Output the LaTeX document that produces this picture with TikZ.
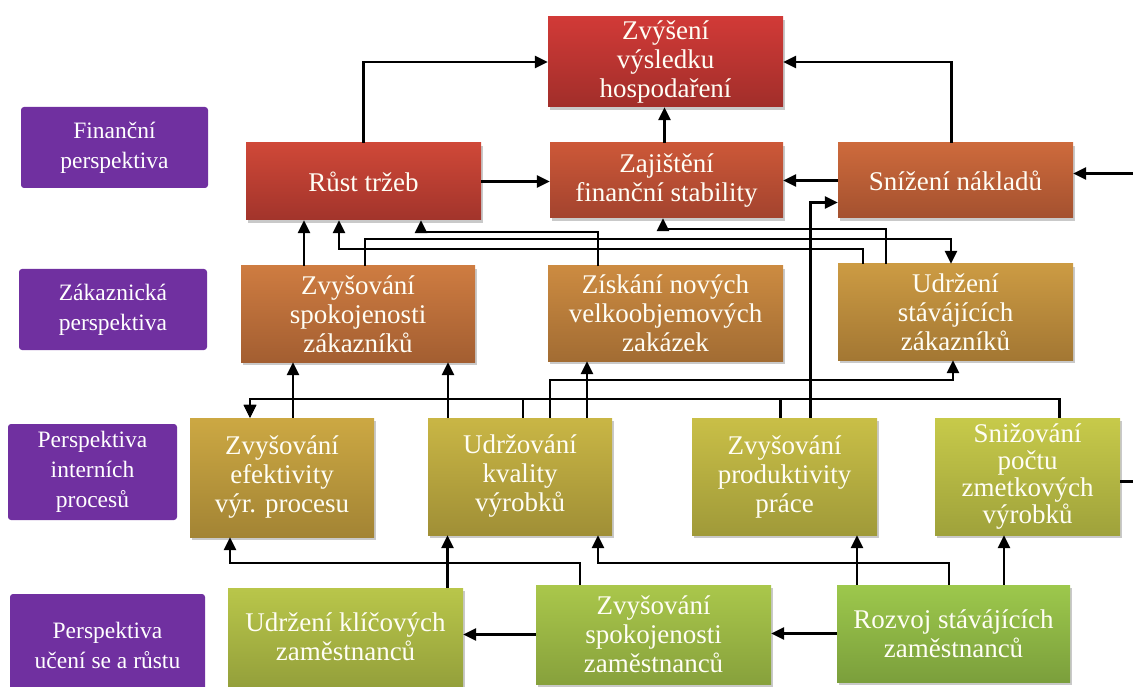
\documentclass[tikz,border=0pt]{standalone}
\usepackage{fontspec}
\setmainfont{Liberation Serif}
\usetikzlibrary{arrows.meta,shadows}
\definecolor{fialova}{HTML}{7030A0}
\definecolor{zvhT}{HTML}{D13A37}\definecolor{zvhB}{HTML}{A12E2A}
\definecolor{rtT}{HTML}{CF4838}\definecolor{rtB}{HTML}{A2342B}
\definecolor{zfsT}{HTML}{CC5838}\definecolor{zfsB}{HTML}{A3432E}
\definecolor{snT}{HTML}{CD6A3C}\definecolor{snB}{HTML}{A4512F}
\definecolor{zszT}{HTML}{CE7C41}\definecolor{zszB}{HTML}{A35E31}
\definecolor{znvT}{HTML}{CC8B41}\definecolor{znvB}{HTML}{A26C33}
\definecolor{uszT}{HTML}{CC9B43}\definecolor{uszB}{HTML}{A37733}
\definecolor{zevT}{HTML}{CCA843}\definecolor{zevB}{HTML}{A38434}
\definecolor{ukvT}{HTML}{C9B645}\definecolor{ukvB}{HTML}{A08F36}
\definecolor{zppT}{HTML}{C9BF47}\definecolor{zppB}{HTML}{A09A39}
\definecolor{spzT}{HTML}{C7CA4A}\definecolor{spzB}{HTML}{9FA23B}
\definecolor{ukzT}{HTML}{B9C64A}\definecolor{ukzB}{HTML}{94A03B}
\definecolor{zsmT}{HTML}{AAC74B}\definecolor{zsmB}{HTML}{87A13C}
\definecolor{rszT}{HTML}{9DC84C}\definecolor{rszB}{HTML}{7B9F3C}

\begin{document}
\begin{tikzpicture}[x=1pt, y=-1pt,
        persp/.style={fill=fialova, rounded corners=3pt, text=white, align=center, inner sep=0pt,
            font=\fontsize{23.5}{30}\selectfont},
        cil/.style={top color=#1T, bottom color=#1B, text=white!96!yellow, align=center, inner sep=0pt,
            font=\fontsize{27}{29}\selectfont,
            drop shadow={shadow xshift=2pt, shadow yshift=-3pt, opacity=0.3, fill=black!70}},
        rozmer/.style 2 args={minimum width=#1pt, minimum height=#2pt},
        arr/.style={-{Triangle[length=13pt,width=12pt]}, line width=2.5pt, black}
    ]
        \useasboundingbox (0,0) rectangle (1133,687);

        \node[persp, rozmer={187}{81}] (lfin) at (114.5,147.5) {Finanční\\perspektiva};
        \node[persp, rozmer={188}{81}] (lzak) at (113,309.5) {Zákaznická\\perspektiva};
        \node[persp, rozmer={169}{96}] (lint) at (92.5,472) {Perspektiva\\interních\\procesů};
        \node[persp, rozmer={195}{102}] (luce) at (107.5,645) {Perspektiva\\učení se a růstu};

        \node[cil=zvh, rozmer={235}{90}] (zvh) at (665.5,62) {Zvýšení\\výsledku\\hospodaření};
        \node[cil=rt, rozmer={235}{77}] (rt) at (363.5,181.5) {Růst tržeb};
        \node[cil=zfs, rozmer={233}{75}] (zfs) at (666.5,180.5) {Zajištění\\finanční stability};
        \node[cil=sn, rozmer={235}{75}] (sn) at (955.5,180.5) {Snížení nákladů};

        \node[cil=zsz, rozmer={234}{96}] (zsz) at (358,314) {Zvyšování\\spokojenosti\\zákazníků};
        \node[cil=znv, rozmer={235}{95}] (znv) at (665.5,313.5) {Získání nových\\velkoobjemových\\zakázek};
        \node[cil=usz, rozmer={235}{96}] (usz) at (955.5,312) {Udržení\\stávájících\\zákazníků};

        \node[cil=zev, rozmer={184}{119}] (zev) at (282,477.5) {Zvyšování\\efektivity\\výr. procesu};
        \node[cil=ukv, rozmer={184}{117}] (ukv) at (520,476.5) {Udržování\\kvality\\výrobků};
        \node[cil=zpp, rozmer={185}{117}] (zpp) at (784.5,476.5) {Zvyšování\\produktivity\\práce};
        \node[cil=spz, rozmer={185}{117}, font=\fontsize{27}{27}\selectfont] (spz) at (1027.5,476.5) {Snižování\\počtu\\zmetkových\\výrobků};

        \node[cil=ukz, rozmer={235}{98}] (ukz) at (345.5,637) {Udržení klíčových\\zaměstnanců};
        \node[cil=zsm, rozmer={235}{99}] (zsm) at (653.5,634.5) {Zvyšování\\spokojenosti\\zaměstnanců};
        \node[cil=rsz, rozmer={233}{97}] (rsz) at (953.5,633.5) {Rozvoj stávájících\\zaměstnanců};

        \draw[arr] (rt.north) |- (zvh.west);
        \draw[arr] ([xshift=-4pt]sn.north) |- (zvh.east);
        \draw[arr] ([xshift=-2pt]zfs.north) -- ([xshift=-1pt]zvh.south);
        \draw[arr] (rt.east) -- (rt.east -| zfs.west);
        \draw[arr] (sn.west) -- (zfs.east);
        \draw[arr] ([yshift=-5pt]spz.east) -- ++(25,0) |- ([yshift=7pt]sn.east);
        \draw[arr] ([xshift=26pt]zpp.north) |- ([yshift=-22pt]sn.west);

        \draw[arr] ([xshift=-54pt]zsz.north) -- ([xshift=-59.5pt]rt.south);
        \draw[arr] ([xshift=7pt]zsz.north) -- ++(0,-27) -| ([xshift=-4.5pt]usz.north);
        \draw[arr] ([xshift=-92.5pt]usz.north) -- ++(0,-15) -| ([xshift=-24.5pt]rt.south);
        \draw[arr] ([xshift=-67.5pt]znv.north) -- ++(0,-34) -| ([xshift=57.5pt]rt.south);
        \draw[arr] ([xshift=-69.5pt]usz.north) -- ++(0,-35) -| ([xshift=-3.5pt]zfs.south);

        \draw[arr] ([xshift=11pt]zev.north) -- ([xshift=-65pt]zsz.south);
        \draw[arr] ([xshift=-72pt]ukv.north) -- ([xshift=90pt]zsz.south);
        \draw[arr] ([xshift=67pt]ukv.north) -- ([xshift=-78.5pt]znv.south);
        \draw[arr] ([xshift=30pt]ukv.north) -- ++(0,-38) -| ([xshift=-2.5pt]usz.south);
        \draw[arr] ([xshift=32pt]spz.north) -- ++(0,-19) -| ([xshift=-32pt]zev.north);
        \draw[arr] ([xshift=-4pt]zpp.north) -- ++(0,-19) -| ([xshift=-32pt]zev.north);
        \draw[arr] ([xshift=3pt]ukv.north) -- ++(0,-19) -| ([xshift=-32pt]zev.north);

        \draw[arr] ([xshift=-73.5pt]zsm.north) -- ++(0,-22) -| ([xshift=-52pt]zev.south);
        \draw[arr] ([xshift=102pt]ukz.north) -- ([xshift=-72.5pt]ukv.south);
        \draw[arr] ([xshift=-4.5pt]rsz.north) -- ++(0,-22) -| ([xshift=78pt]ukv.south);
        \draw[arr] ([xshift=-96.5pt]rsz.north) -- ([xshift=72.5pt]zpp.south);
        \draw[arr] ([xshift=50.5pt]rsz.north) -- ([xshift=-23.5pt]spz.south);
        \draw[arr] (zsm.west) -- (zsm.west -| ukz.east);
        \draw[arr] (rsz.west) -- (rsz.west -| zsm.east);
    \end{tikzpicture}
\end{document}
